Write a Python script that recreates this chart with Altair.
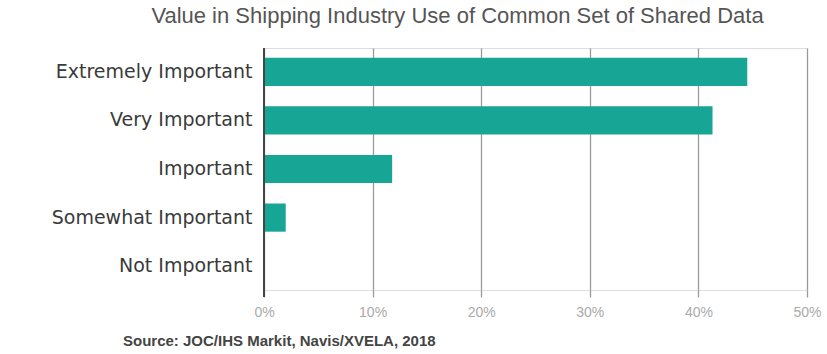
import altair as alt
import pandas as pd

categories = ["Extremely Important", "Very Important", "Important", "Somewhat Important", "Not Important"]
values = [44.5, 41.3, 11.8, 2.0, 0.0]
x_ticks = [0, 10, 20, 30, 40, 50]
title_text = "Value in Shipping Industry Use of Common Set of Shared Data"
source_text = "Source: JOC/IHS Markit, Navis/XVELA, 2018"

df = pd.DataFrame({"category": categories, "value": values})

W, H = 543, 242

bars = alt.Chart(df).mark_bar(color="#17A595").encode(
    x=alt.X("value:Q", scale=alt.Scale(domain=[0, 50], nice=False),
            axis=alt.Axis(values=x_ticks, labelExpr="datum.value + '%'", title=None,
                          domain=False, grid=True, gridColor="#9a9a9a", gridWidth=1.3,
                          tickColor="#9a9a9a", tickSize=7, tickWidth=1.3,
                          labelColor="#aaaaaa", labelFontSize=14, labelFont="Liberation Sans",
                          labelPadding=8, labelFlush=False, labelOverlap=False)),
    y=alt.Y("category:N", sort=categories, scale=alt.Scale(paddingInner=0.42, paddingOuter=0.2),
            axis=alt.Axis(title=None, domain=False, ticks=False, grid=False,
                          labelColor="#3a3a3a", labelFontSize=19, labelFont="DejaVu Sans",
                          labelPadding=12, labelLimit=0)),
)

zero = alt.Chart(pd.DataFrame({"v": [0]})).mark_rule(color="#444444", strokeWidth=2).encode(
    x="v:Q", y=alt.value(0), y2=alt.value(H + 7)
)

source = alt.Chart(pd.DataFrame({"t": [source_text]})).mark_text(
    align="left", baseline="middle", fontSize=15, fontWeight="bold",
    font="Liberation Sans", color="#444444"
).encode(text="t:N", x=alt.value(-141), y=alt.value(293))

chart = alt.layer(bars, zero, source).properties(
    width=W, height=H,
    title=alt.TitleParams(title_text, fontSize=22, font="Liberation Sans", fontWeight="normal",
                          color="#555555", anchor="middle", dx=-78, offset=19),
    autosize="none",
    padding={"left": 264, "top": 48, "right": 20, "bottom": 64},
).configure_view(stroke=None).configure(background="white")

chart.save("out.html", embed_options={"renderer": "svg", "actions": False})
